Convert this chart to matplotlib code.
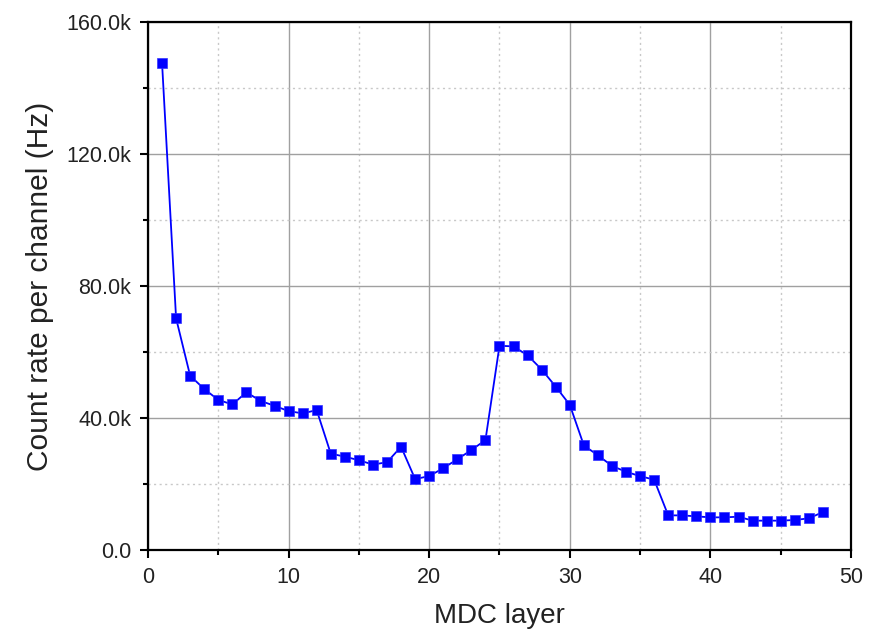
import matplotlib
matplotlib.use("Agg")
import matplotlib.pyplot as plt
from matplotlib.ticker import MultipleLocator, FuncFormatter

plt.rcParams["font.family"] = ["Liberation Sans", "DejaVu Sans"]

layer = list(range(1, 49))
rate_k = [147.7, 70.2, 52.8, 48.8, 45.5, 44.1, 47.8, 45.2, 43.7, 42.1,
          41.4, 42.4, 29.2, 28.3, 27.2, 25.9, 26.6, 31.3, 21.5, 22.4,
          24.8, 27.5, 30.3, 33.3, 61.9, 61.7, 59.0, 54.7, 49.5, 44.0,
          31.7, 28.7, 25.5, 23.7, 22.4, 21.3, 10.5, 10.5, 10.2, 9.9,
          9.9, 10.1, 8.9, 8.9, 8.9, 9.1, 9.6, 11.5]
rate = [v * 1000 for v in rate_k]

fig = plt.figure(figsize=(8.74, 6.32), dpi=100)
ax = fig.add_axes([0.1693, 0.1297, 0.8044, 0.8355])

ax.plot(layer, rate, color="#0000ff", lw=1.3, marker="s", markersize=7,
        markeredgewidth=0.5, markeredgecolor="#3333ff", zorder=3)

ax.set_xlim(0, 50)
ax.set_ylim(0, 160000)
ax.xaxis.set_major_locator(MultipleLocator(10))
ax.xaxis.set_minor_locator(MultipleLocator(5))
ax.yaxis.set_major_locator(MultipleLocator(40000))
ax.yaxis.set_minor_locator(MultipleLocator(20000))

def kfmt(v, pos):
    if v == 0:
        return "0.0"
    return f"{v/1000:.1f}k"

ax.yaxis.set_major_formatter(FuncFormatter(kfmt))

ax.grid(which="major", color="#a0a0a0", lw=1.0, ls="-")
ax.grid(which="minor", color="#c8c8c8", lw=1.0, ls=(0, (1.5, 2.5)))
ax.set_axisbelow(True)

for s in ax.spines.values():
    s.set_linewidth(1.6)
    s.set_color("black")

ax.tick_params(which="major", direction="out", length=6, width=1.5,
               labelsize=15.5, labelcolor="#222222", pad=6)
ax.tick_params(which="minor", direction="out", length=3.5, width=1.5)

ax.set_xlabel("MDC layer", fontsize=20, labelpad=11, color="#222222")
ax.set_ylabel("Count rate per channel (Hz)", fontsize=21.5, labelpad=9,
              color="#222222")

fig.savefig("out.png", dpi=100)
